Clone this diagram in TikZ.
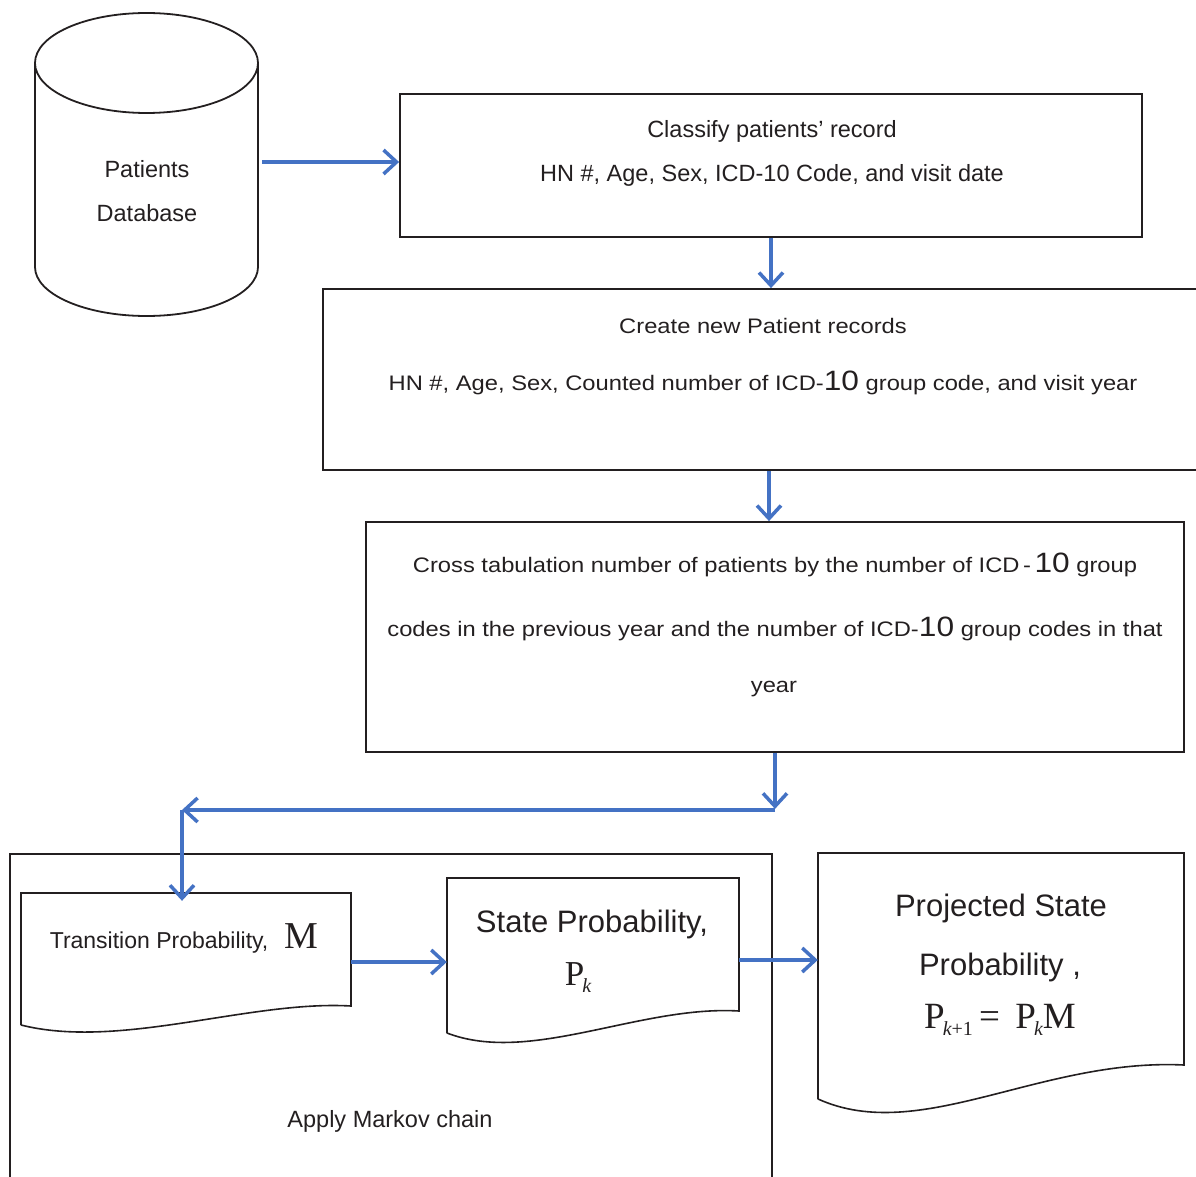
\documentclass[tikz,border=0pt]{standalone}
\usepackage{fontspec}
\setmainfont{Liberation Sans}
\newfontfamily\tms{Liberation Serif}
\newfontfamily\widesans[FakeStretch=1.13]{Liberation Sans}
\usetikzlibrary{arrows.meta,calc}
\definecolor{arrblue}{RGB}{68,114,196}
\definecolor{ink}{RGB}{35,31,32}
\newcommand\fsz[1]{\fontsize{#1}{#1}\selectfont}
\newcommand\lowsub[1]{\kern-2pt\raisebox{-7pt}{\fsz{20}#1}}
\begin{document}
\begin{tikzpicture}[x=1pt,y=-1pt,
  frame/.style={draw=ink, line width=1.8pt},
  boxnode/.style={frame, inner sep=0pt, fill=none},
  hidden/.style={inner sep=0pt},
  arr/.style={draw=arrblue, line width=3.5pt, -{Straight Barb[length=13pt,width=24pt]}},
  txt/.style={inner sep=0pt, anchor=base, text=ink, font=\fsz{23.5}},
  widetxt/.style={inner sep=0pt, anchor=base, text=ink, font=\widesans\fsz{21}}]
\useasboundingbox (0,0) rectangle (1196,1177);
\clip (0,0) rectangle (1196,1177);

% database cylinder
\draw[frame] (35,63) -- (35,267) arc[start angle=180, end angle=360, x radius=111.5pt, y radius=49pt] -- (258,63);
\draw[frame] (146.5,63) ellipse [x radius=111.5pt, y radius=50pt];
\node[hidden, minimum width=228pt, minimum height=304pt] (db) at (148,165) {};
\node[txt] (db1) at (147,178) {Patients};
\node[txt] (db2) at (147,222) {Database};

% boxes
\node[boxnode, minimum width=742pt, minimum height=143pt] (b1) at (771,165.5) {};
\node[txt] (t1a) at (772,138) {Classify patients’ record};
\node[txt] (t1b) at (772,182) {HN \#, Age, Sex, ICD-10 Code, and visit date};

\node[boxnode, minimum width=887pt, minimum height=181pt] (b2) at (766.5,379.5) {};
\node[widetxt] (t2a) at (763,333) {Create new Patient records};
\node[widetxt] (t2b) at (763,390) {HN \#, Age, Sex, Counted number of ICD-{\fsz{28}10} group code, and visit year};

\node[boxnode, minimum width=818pt, minimum height=230pt] (b3) at (775,637) {};
\node[widetxt] (t3a) at (775,572) {Cross tabulation number of patients by the number of ICD\,-\,{\fsz{28}10} group};
\node[widetxt] (t3b) at (775,636) {codes in the previous year and the number of ICD-{\fsz{28}10} group codes in that};
\node[widetxt] (t3c) at (774,692) {year};

% outer Markov box
\node[boxnode, minimum width=762pt, minimum height=346pt] (mk) at (391,1027) {};
\node[txt] (t7) at (390,1127) {Apply Markov chain};

% documents
\draw[frame, line width=1.6pt] (21,1025) -- (21,893) -- (351,893) -- (351,1006)
  .. controls (250,1000) and (120,1050) .. (21,1025);
\node[hidden, minimum width=330pt, minimum height=113pt] (d1) at (186,949.5) {};
\node[txt, font=\fsz{23}] (t4) at (184,948) {Transition Probability,\hspace{16pt}{\tms\fsz{38}M}};

\draw[frame, line width=1.6pt] (447,1033) -- (447,878) -- (739,878) -- (739,1011)
  .. controls (640,1005) and (530,1065) .. (447,1033);
\node[hidden, minimum width=292pt, minimum height=133pt] (d2) at (593,944.5) {};
\node[txt, font=\fsz{31}] (t5a) at (592,932) {State Probability,};
\node[txt, font=\tms\fsz{35}] (t5b) at (578,985) {P\lowsub{\itshape k}};

\draw[frame, line width=1.6pt] (818,1099) -- (818,853) -- (1184,853) -- (1184,1065)
  .. controls (1040,1058) and (920,1145) .. (818,1099);
\node[hidden, minimum width=366pt, minimum height=212pt] (d3) at (1001,959) {};
\node[txt, font=\fsz{31}] (t6a) at (1001,916) {Projected State};
\node[txt, font=\fsz{31}] (t6b) at (1000,975) {Probability ,};
\node[txt, font=\tms\fsz{37}] (t6c) at (1000,1028) {P\lowsub{\itshape k\upshape +1}\,=\, P\lowsub{\itshape k}M};

% connectors
\coordinate (a1) at ($(b1.west)+(0,-3.5)$);
\draw[arr] (db.east |- a1) -- (a1);
\draw[arr] (b1.south) -- (b1.south |- b2.north);
\coordinate (a2) at ($(b3.north)+(-6,0)$);
\draw[arr] (a2 |- b2.south) -- (a2);
\coordinate (j) at ($(b3.south)+(0,56)$);
\draw[arr] (b3.south) -- (j);
\coordinate (k) at (182,810);
\draw[arr] (j |- k) -- (k);
\coordinate (kd) at ($(k |- d1.north)+(0,8)$);
\draw[arr] (k) -- (kd);
\coordinate (a3) at ($(d1.east)+(0,12.5)$);
\draw[arr] (a3) -- (a3 -| d2.west);
\coordinate (a4) at ($(d2.east)+(0,15.5)$);
\draw[arr] (a4) -- (a4 -| d3.west);
\end{tikzpicture}
\end{document}
